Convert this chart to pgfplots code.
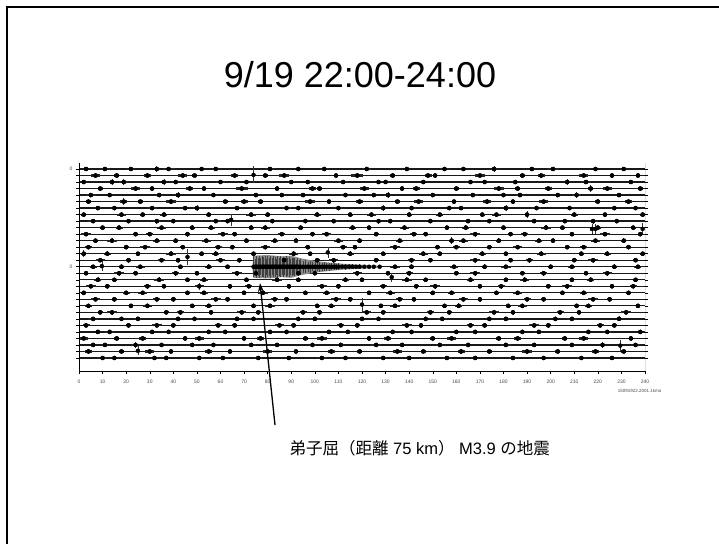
\documentclass[border=0pt]{standalone}
\usepackage{fontspec}
\setmainfont{Liberation Sans}
\newfontfamily\cjk{Noto Sans CJK JP}
\usepackage{pgfplots}
\pgfplotsset{compat=1.18}
\usepackage{pgfplotstable}
\usetikzlibrary{arrows.meta}

% baselines of the 30 traces (nan rows separate the traces)
\pgfplotstableread[row sep=\\]{
x y\\
0 0\\ 240 0\\ nan nan\\ 0 -1\\ 240 -1\\ nan nan\\ 0 -2\\ 240 -2\\ nan nan\\ 0 -3\\ 240 -3\\ nan nan\\
0 -4\\ 240 -4\\ nan nan\\ 0 -5\\ 240 -5\\ nan nan\\ 0 -6\\ 240 -6\\ nan nan\\ 0 -7\\ 240 -7\\ nan nan\\
0 -8\\ 240 -8\\ nan nan\\ 0 -9\\ 240 -9\\ nan nan\\ 0 -10\\ 240 -10\\ nan nan\\ 0 -11\\ 240 -11\\ nan nan\\
0 -12\\ 240 -12\\ nan nan\\ 0 -13\\ 240 -13\\ nan nan\\ 0 -14\\ 240 -14\\ nan nan\\ 0 -15\\ 240 -15\\ nan nan\\
0 -16\\ 240 -16\\ nan nan\\ 0 -17\\ 240 -17\\ nan nan\\ 0 -18\\ 240 -18\\ nan nan\\ 0 -19\\ 240 -19\\ nan nan\\
0 -20\\ 240 -20\\ nan nan\\ 0 -21\\ 240 -21\\ nan nan\\ 0 -22\\ 240 -22\\ nan nan\\ 0 -23\\ 240 -23\\ nan nan\\
0 -24\\ 240 -24\\ nan nan\\ 0 -25\\ 240 -25\\ nan nan\\ 0 -26\\ 240 -26\\ nan nan\\ 0 -27\\ 240 -27\\ nan nan\\
0 -28\\ 240 -28\\ nan nan\\ 0 -29\\ 240 -29\\
}\baselines

% noise bursts: x, trace y, half amplitude a, half length l
\pgfplotstableread[row sep=\\]{
x y a l\\
3 0 .3 1\\ 11 0 .25 2\\ 22 0 .35 1.5\\ 33 0 .5 1\\ 38 0 .3 2.5\\ 52 0 .25 1\\ 58 0 .3 1.5\\ 81 0 .3 2\\ 93 0 .35 1\\ 104 0 .25 1.5\\ 122 0 .3 2\\ 139 0 .35 1\\ 155 0 .25 2\\ 163 0 .3 1\\ 176 0 .4 1.5\\ 192 0 .3 1\\ 201 0 .25 2.5\\ 219 0 .35 1\\ 231 0 .3 1.5\\
7 -1 .3 2\\ 16 -1 .35 1\\ 29 -1 .4 1.5\\ 44 -1 .3 2\\ 49 -1 .25 1\\ 66 -1 .35 1.5\\ 79 -1 .3 1\\ 87 -1 .4 2\\ 109 -1 .3 1\\ 118 -1 .35 2.5\\ 133 -1 .25 1\\ 148 -1 .3 1.5\\ 151 -1 .4 1\\ 170 -1 .3 2\\ 188 -1 .35 1\\ 196 -1 .3 1.5\\ 214 -1 .25 2\\ 226 -1 .35 1\\ 237 -1 .3 1\\
2 -2 .35 1.5\\ 14 -2 .4 1\\ 19 -2 .45 2\\ 36 -2 .4 1\\ 41 -2 .3 1.5\\ 60 -2 .3 2\\ 71 -2 .35 1\\ 90 -2 .3 1.5\\ 97 -2 .25 1\\ 112 -2 .35 2\\ 127 -2 .3 1\\ 130 -2 .35 1.5\\ 146 -2 .3 1\\ 166 -2 .25 2\\ 172 -2 .3 1\\ 185 -2 .35 1.5\\ 207 -2 .4 1\\ 215 -2 .3 2\\ 234 -2 .35 1\\
9 -3 .3 1\\ 24 -3 .35 2\\ 31 -3 .3 1\\ 47 -3 .4 1.5\\ 53 -3 .3 1\\ 69 -3 .3 2.5\\ 84 -3 .35 1\\ 99 -3 .3 1.5\\ 102 -3 .35 1\\ 121 -3 .3 2\\ 137 -3 .35 1\\ 143 -3 .3 1.5\\ 160 -3 .3 1\\ 178 -3 .35 2\\ 186 -3 .4 1\\ 199 -3 .3 1.5\\ 217 -3 .5 1\\ 224 -3 .35 2\\ 238 -3 .3 1\\
5 -4 .3 2\\ 13 -4 .3 1\\ 34 -4 .35 1.5\\ 42 -4 .4 1\\ 57 -4 .3 2\\ 75 -4 .35 1\\ 86 -4 .3 1.5\\ 95 -4 .35 1\\ 113 -4 .3 2\\ 125 -4 .3 1\\ 131 -4 .4 1.5\\ 150 -4 .35 1\\ 167 -4 .3 2\\ 180 -4 .35 1\\ 187 -4 .3 1.5\\ 203 -4 .35 1\\ 211 -4 .4 2\\ 229 -4 .3 1\\
4 -5 .35 1\\ 19 -5 .55 1.5\\ 26 -5 .3 1\\ 39 -5 .35 2\\ 62 -5 .3 1\\ 70 -5 .4 1.5\\ 77 -5 .3 1\\ 98 -5 .35 2\\ 106 -5 .3 1\\ 119 -5 .35 1.5\\ 135 -5 .3 1\\ 144 -5 .4 2\\ 159 -5 .3 1\\ 173 -5 .35 1.5\\ 184 -5 .3 1\\ 197 -5 .35 2\\ 220 -5 .4 1\\ 233 -5 .3 1.5\\
8 -6 .3 1.5\\ 15 -6 .35 1\\ 31 -6 .3 2\\ 45 -6 .35 1\\ 50 -6 .4 1.5\\ 67 -6 .3 1\\ 88 -6 .3 2\\ 93 -6 .35 1\\ 110 -6 .3 1.5\\ 129 -6 .4 1\\ 141 -6 .3 2\\ 157 -6 .35 1\\ 162 -6 .3 1.5\\ 181 -6 .4 1\\ 194 -6 .3 2\\ 208 -6 .35 1\\ 227 -6 .3 1.5\\ 236 -6 .35 1\\
2 -7 .3 1\\ 18 -7 .35 2\\ 27 -7 .3 1\\ 36 -7 .35 1.5\\ 55 -7 .3 1\\ 73 -7 .4 2\\ 80 -7 .3 1\\ 101 -7 .35 1.5\\ 115 -7 .3 1\\ 124 -7 .35 2\\ 140 -7 .4 1\\ 153 -7 .3 1.5\\ 171 -7 .35 1\\ 177 -7 .3 2\\ 190 -7 .5 1\\ 210 -7 .35 1.5\\ 223 -7 .3 1\\ 239 -7 .35 1\\
6 -8 .35 2\\ 21 -8 .3 1\\ 33 -8 .4 1.5\\ 40 -8 .3 1\\ 58 -8 .35 2\\ 63 -8 .3 1\\ 82 -8 .35 1.5\\ 96 -8 .3 1\\ 108 -8 .35 2\\ 127 -8 .4 1\\ 132 -8 .3 1.5\\ 149 -8 .35 1\\ 165 -8 .3 2\\ 174 -8 .35 1\\ 193 -8 .3 1.5\\ 206 -8 .35 1\\ 218 -8 .4 2\\ 228 -8 .3 1\\
10 -9 .3 1\\ 17 -9 .35 1.5\\ 35 -9 .3 2\\ 48 -9 .35 1\\ 56 -9 .3 1.5\\ 73 -9 .35 1\\ 79 -9 .4 2\\ 94 -9 .3 1\\ 116 -9 .35 1.5\\ 123 -9 .3 1\\ 138 -9 .35 2\\ 156 -9 .3 1\\ 164 -9 .35 1.5\\ 180 -9 .3 1\\ 198 -9 .4 2\\ 205 -9 .3 1\\ 220 -9 .35 1.5\\ 235 -9 .3 1\\
3 -10 .35 2\\ 24 -10 .3 1\\ 30 -10 .35 1.5\\ 46 -10 .4 1\\ 61 -10 .3 2\\ 66 -10 .35 1\\ 86 -10 .3 1.5\\ 99 -10 .35 1\\ 105 -10 .3 2\\ 126 -10 .35 1\\ 142 -10 .3 1.5\\ 147 -10 .35 1\\ 168 -10 .4 2\\ 183 -10 .3 1\\ 189 -10 .35 1.5\\ 209 -10 .3 1\\ 223 -10 .35 2\\ 238 -10 .3 1\\
7 -11 .3 1\\ 14 -11 .35 2\\ 33 -11 .3 1.5\\ 41 -11 .35 1\\ 54 -11 .3 2\\ 71 -11 .4 1\\ 83 -11 .3 1.5\\ 92 -11 .35 1\\ 110 -11 .3 2\\ 119 -11 .35 1\\ 136 -11 .3 1.5\\ 158 -11 .5 1\\ 163 -11 .3 2\\ 178 -11 .35 1\\ 195 -11 .3 1.5\\ 201 -11 .35 1\\ 219 -11 .3 2\\ 231 -11 .35 1\\
4 -12 .3 1.5\\ 20 -12 .35 1\\ 28 -12 .3 2\\ 44 -12 .35 1\\ 59 -12 .3 1.5\\ 65 -12 .35 1\\ 79 -12 .3 2\\ 97 -12 .35 1\\ 112 -12 .3 1.5\\ 117 -12 .35 1\\ 134 -12 .4 2\\ 152 -12 .3 1\\ 160 -12 .35 1.5\\ 174 -12 .3 1\\ 186 -12 .35 2\\ 207 -12 .3 1\\ 214 -12 .35 1.5\\ 233 -12 .3 1\\
2 -13 .5 1\\ 12 -13 .35 1.5\\ 25 -13 .3 1\\ 39 -13 .35 2\\ 52 -13 .3 1\\ 58 -13 .35 1.5\\ 74 -13 .3 1\\ 91 -13 .35 2\\ 98 -13 .3 1\\ 115 -13 .35 1.5\\ 129 -13 .3 1\\ 146 -13 .35 2\\ 153 -13 .3 1\\ 171 -13 .35 1.5\\ 181 -13 .3 1\\ 196 -13 .35 2\\ 213 -13 .3 1\\ 224 -13 .35 1.5\\ 239 -13 .3 1\\
9 -14 .3 2\\ 21 -14 .35 1\\ 35 -14 .3 1.5\\ 42 -14 .35 1\\ 60 -14 .3 2\\ 68 -14 .35 1\\ 87 -14 .3 1.5\\ 101 -14 .3 1\\ 108 -14 .35 2\\ 126 -14 .3 1\\ 141 -14 .35 1.5\\ 149 -14 .3 1\\ 168 -14 .35 2\\ 183 -14 .3 1\\ 191 -14 .35 1.5\\ 210 -14 .3 1\\ 218 -14 .35 2\\ 236 -14 .3 1\\
6 -15 .3 1.5\\ 18 -15 .35 1\\ 26 -15 .3 2\\ 43 -15 .3 1\\ 55 -15 .35 1.5\\ 63 -15 .3 1\\ 134 -15 .3 2\\ 141 -15 .35 1\\ 159 -15 .3 1.5\\ 172 -15 .35 1\\ 181 -15 .3 2\\ 200 -15 .35 1\\ 209 -15 .3 1.5\\ 227 -15 .35 1\\ 237 -15 .3 1.5\\
3 -16 .3 1\\ 17 -16 .35 2\\ 24 -16 .3 1\\ 41 -16 .35 1.5\\ 50 -16 .3 1\\ 67 -16 .35 2\\ 75 -16 .3 1\\ 93 -16 .35 1.5\\ 100 -16 .3 1\\ 118 -16 .35 2\\ 131 -16 .3 1\\ 140 -16 .35 1.5\\ 160 -16 .3 1\\ 168 -16 .35 2\\ 188 -16 .3 1\\ 197 -16 .35 1.5\\ 215 -16 .3 1\\ 224 -16 .35 2\\
8 -17 .35 1.5\\ 15 -17 .3 1\\ 34 -17 .35 2\\ 46 -17 .3 1\\ 53 -17 .35 1.5\\ 71 -17 .3 1\\ 84 -17 .35 2\\ 93 -17 .3 1\\ 113 -17 .35 1.5\\ 120 -17 .3 1\\ 139 -17 .35 2\\ 147 -17 .3 1\\ 166 -17 .35 1.5\\ 181 -17 .3 1\\ 189 -17 .35 2\\ 209 -17 .3 1\\ 217 -17 .35 1.5\\ 236 -17 .3 1\\
5 -18 .3 2\\ 12 -18 .4 1\\ 29 -18 .35 1.5\\ 36 -18 .3 1\\ 51 -18 .5 2\\ 64 -18 .35 1\\ 72 -18 .3 1.5\\ 89 -18 .35 1\\ 103 -18 .3 2\\ 110 -18 .35 1\\ 129 -18 .3 1.5\\ 143 -18 .4 1\\ 151 -18 .35 2\\ 170 -18 .3 1\\ 179 -18 .35 1.5\\ 199 -18 .3 1\\ 207 -18 .35 2\\ 226 -18 .3 1\\ 235 -18 .3 1.5\\
2 -19 .3 1\\ 20 -19 .35 1.5\\ 27 -19 .3 2\\ 46 -19 .35 1\\ 53 -19 .3 1.5\\ 70 -19 .35 1\\ 78 -19 .3 2\\ 96 -19 .35 1\\ 105 -19 .3 1.5\\ 123 -19 .35 1\\ 132 -19 .3 2\\ 150 -19 .35 1\\ 158 -19 .3 1.5\\ 177 -19 .35 1\\ 186 -19 .3 2\\ 205 -19 .35 1\\ 214 -19 .3 1.5\\ 233 -19 .35 1\\
7 -20 .3 2\\ 15 -20 .35 1\\ 33 -20 .3 1.5\\ 40 -20 .35 1\\ 58 -20 .3 2\\ 63 -20 .4 1\\ 83 -20 .3 1.5\\ 88 -20 .35 1\\ 109 -20 .3 2\\ 115 -20 .35 1\\ 136 -20 .3 1.5\\ 142 -20 .35 1\\ 163 -20 .3 2\\ 170 -20 .35 1\\ 190 -20 .3 1.5\\ 197 -20 .35 1\\ 218 -20 .3 2\\ 225 -20 .35 1\\
4 -21 .35 1.5\\ 22 -21 .3 1\\ 29 -21 .35 2\\ 48 -21 .3 1\\ 55 -21 .35 1.5\\ 74 -21 .3 1\\ 81 -21 .35 2\\ 101 -21 .3 1\\ 107 -21 .35 1.5\\ 128 -21 .3 1\\ 134 -21 .35 2\\ 155 -21 .3 1\\ 161 -21 .4 1.5\\ 182 -21 .3 1\\ 188 -21 .35 2\\ 211 -21 .3 1\\ 216 -21 .35 1.5\\ 237 -21 .3 1\\
9 -22 .3 1\\ 14 -22 .35 2\\ 37 -22 .3 1\\ 43 -22 .35 1.5\\ 56 -22 .4 1\\ 69 -22 .3 2\\ 76 -22 .35 1\\ 95 -22 .3 1.5\\ 102 -22 .35 1\\ 122 -22 .3 2\\ 129 -22 .35 1\\ 149 -22 .3 1.5\\ 157 -22 .35 1\\ 176 -22 .3 2\\ 184 -22 .35 1\\ 204 -22 .3 1.5\\ 212 -22 .35 1\\ 232 -22 .3 2\\
6 -23 .35 2\\ 18 -23 .3 1\\ 25 -23 .35 1.5\\ 42 -23 .3 1\\ 49 -23 .35 2\\ 67 -23 .3 1\\ 74 -23 .35 1.5\\ 93 -23 .3 1\\ 100 -23 .35 2\\ 120 -23 .3 1\\ 127 -23 .35 1.5\\ 147 -23 .3 1\\ 154 -23 .35 2\\ 174 -23 .3 1\\ 181 -23 .35 1.5\\ 202 -23 .3 1\\ 209 -23 .35 2\\ 229 -23 .4 1\\
3 -24 .3 1.5\\ 21 -24 .35 1\\ 33 -24 .3 2\\ 40 -24 .35 1\\ 59 -24 .3 1.5\\ 66 -24 .35 1\\ 85 -24 .3 2\\ 91 -24 .35 1\\ 111 -24 .3 1.5\\ 118 -24 .35 1\\ 139 -24 .3 2\\ 145 -24 .35 1\\ 166 -24 .3 1.5\\ 172 -24 .35 1\\ 193 -24 .3 2\\ 199 -24 .35 1\\ 221 -24 .3 1.5\\ 227 -24 .35 1\\
8 -25 .35 1\\ 13 -25 .3 2\\ 31 -25 .35 1\\ 38 -25 .3 1.5\\ 55 -25 .35 1\\ 62 -25 .3 2\\ 81 -25 .35 1\\ 88 -25 .3 1.5\\ 106 -25 .35 1\\ 114 -25 .3 2\\ 133 -25 .35 1\\ 141 -25 .3 1.5\\ 160 -25 .35 1\\ 168 -25 .3 2\\ 188 -25 .35 1\\ 195 -25 .3 1.5\\ 216 -25 .35 1\\ 224 -25 .3 2\\ 238 -25 .3 1\\
2 -26 .3 2\\ 16 -26 .35 1\\ 27 -26 .3 1.5\\ 45 -26 .35 1\\ 51 -26 .3 2\\ 70 -26 .35 1\\ 77 -26 .3 1.5\\ 96 -26 .35 1\\ 103 -26 .3 2\\ 123 -26 .35 1\\ 131 -26 .3 1.5\\ 150 -26 .35 1\\ 158 -26 .3 2\\ 178 -26 .35 1\\ 186 -26 .3 1.5\\ 206 -26 .35 1\\ 214 -26 .4 2\\ 234 -26 .35 1\\
6 -27 .3 1\\ 11 -27 .35 1.5\\ 24 -27 .4 2\\ 35 -27 .3 1\\ 48 -27 .35 1.5\\ 57 -27 .3 1\\ 73 -27 .35 2\\ 84 -27 .3 1\\ 99 -27 .35 1.5\\ 111 -27 .3 1\\ 126 -27 .35 2\\ 137 -27 .3 1\\ 153 -27 .35 1.5\\ 165 -27 .3 1\\ 181 -27 .35 2\\ 193 -27 .3 1\\ 209 -27 .35 1.5\\ 222 -27 .4 1\\ 236 -27 .3 2\\
4 -28 .35 1.5\\ 18 -28 .3 1\\ 30 -28 .35 2\\ 39 -28 .3 1\\ 55 -28 .35 1.5\\ 64 -28 .3 1\\ 80 -28 .35 2\\ 92 -28 .3 1\\ 107 -28 .35 1.5\\ 119 -28 .3 1\\ 135 -28 .35 2\\ 146 -28 .3 1\\ 162 -28 .35 1.5\\ 174 -28 .3 1\\ 190 -28 .35 2\\ 203 -28 .3 1\\ 219 -28 .35 1.5\\ 231 -28 .3 1\\
10 -29 .3 2\\ 15 -29 .35 1\\ 32 -29 .3 1.5\\ 37 -29 .35 1\\ 51 -29 .3 2\\ 61 -29 .35 1\\ 76 -29 .3 1.5\\ 89 -29 .35 1\\ 103 -29 .3 2\\ 113 -29 .35 1\\ 129 -29 .3 1.5\\ 140 -29 .35 1\\ 156 -29 .3 2\\ 168 -29 .35 1\\ 184 -29 .3 1.5\\ 197 -29 .35 1\\ 213 -29 .3 2\\ 226 -29 .35 1\\
}\blobs

% thin tall spikes: x, y centre, half amplitude
\pgfplotstableread[row sep=\\]{
x y a\\
74 -0.9 1.3\\ 64.5 -7.8 0.9\\ 46 -13.5 1.2\\ 9.7 -14.9 0.8\\ 105.5 -12.8 0.8\\ 132.6 -16.6 0.7\\
217.5 -9.2 0.8\\ 219 -9.2 0.7\\ 239 -9.2 0.9\\ 120 -20.8 1.0\\ 229.5 -27.1 0.9\\ 25 -27.9 0.7\\
}\spikes

% earthquake coda on trace 16: x, y, half amplitude
\pgfplotstableread[row sep=\\]{
x y a\\
74 -15 1.6\\ 74.6 -15 1.2\\ 75.2 -15 1.7\\ 75.8 -15 1.4\\ 76.4 -15 1.7\\ 77 -15 1.3\\ 77.6 -15 1.6\\ 78.2 -15 1.5\\
78.8 -15 1.7\\ 79.4 -15 1.2\\ 80 -15 1.6\\ 80.6 -15 1.4\\ 81.2 -15 1.7\\ 81.8 -15 1.3\\ 82.4 -15 1.6\\ 83 -15 1.5\\
83.6 -15 1.2\\ 84.2 -15 1.6\\ 84.8 -15 1.4\\ 85.4 -15 1.6\\ 86 -15 1.3\\ 86.6 -15 1.5\\ 87.2 -15 1.2\\ 87.8 -15 1.6\\
88.4 -15 1.4\\ 89 -15 1.5\\ 89.6 -15 1.2\\ 90.2 -15 1.4\\ 90.8 -15 1.3\\ 91.4 -15 1.4\\ 92 -15 1.1\\ 92.6 -15 1.3\\
93.2 -15 1.1\\ 94 -15 1.2\\ 95 -15 0.9\\ 96 -15 1.0\\ 97 -15 0.8\\ 98 -15 0.9\\ 99 -15 0.7\\ 100 -15 0.8\\
101 -15 0.7\\ 102 -15 0.8\\ 103 -15 0.6\\ 104 -15 0.7\\ 105 -15 0.6\\ 106 -15 0.6\\ 107 -15 0.5\\ 108 -15 0.55\\
109 -15 0.45\\ 110 -15 0.5\\ 111.5 -15 0.4\\ 113 -15 0.45\\ 114.5 -15 0.35\\ 116 -15 0.4\\ 117.5 -15 0.3\\ 119 -15 0.35\\
121 -15 0.25\\ 123 -15 0.3\\ 125 -15 0.25\\ 127.5 -15 0.2\\
}\quake

\begin{document}
\begin{tikzpicture}
\path[use as bounding box] (0,0) rectangle (719pt,-544pt);
\fill[white] (0,0) rectangle (719pt,-544pt);
\draw[line width=2pt] (7pt,-544pt) -- (7pt,-7pt) -- (719pt,-7pt);

\node[font=\fontsize{36}{40}\selectfont] at (360pt,-75pt) {9/19 22:00-24:00};

\begin{axis}[
  at={(79pt,-371pt)}, anchor=south west,
  scale only axis, width=566pt, height=208pt,
  xmin=0, xmax=240, ymin=-31, ymax=0.92,
  axis line style={draw=none},
  tick align=outside,
  major tick length=3pt,
  every tick/.style={black, line width=0.5pt},
  xtick={0,10,...,240},
  xtick pos=bottom,
  ytick={-29,-28,...,0},
  yticklabels={},
  ytick pos=both,
  extra y ticks={0,-15},
  extra y tick labels={0,0},
  /pgf/number format/assume math mode=true,
  tick label style={font=\fontsize{5}{6}\selectfont, text=black!70},
  xticklabel style={yshift=-2pt},
  unbounded coords=jump,
  clip=true,
]
\addplot[black!90, line width=1.3pt, mark=none, forget plot]
  table[x=x, y=y] {\baselines};
\addplot[only marks, mark=none, forget plot,
  error bars/.cd, x dir=both, x explicit, error mark=none,
  error bar style={draw=black!85, line width=2.2pt}]
  table[x=x, y=y, x error=l] {\blobs};
\addplot[only marks, mark=none, forget plot,
  error bars/.cd, y dir=both, y explicit, error mark=none,
  error bar style={draw=black!80, line width=0.7pt}]
  table[x=x, y=y, y error=a] {\blobs};
\addplot[only marks, mark=none, forget plot,
  error bars/.cd, y dir=both, y explicit, error mark=none,
  error bar style={draw=black!80, line width=0.5pt}]
  table[x=x, y=y, y error=a] {\spikes};
\addplot[fill=black!45, draw=none, forget plot] coordinates {
  (73.5,-15) (74,-13.3) (80,-13.2) (86,-13.4) (90,-13.3) (94,-13.7) (100,-14.1) (106,-14.35)
  (112,-14.55) (120,-14.7) (128,-14.85) (128,-15.15) (120,-15.3) (112,-15.45) (106,-15.65)
  (100,-15.9) (94,-16.3) (90,-16.7) (86,-16.6) (80,-16.8) (74,-16.7)
} -- cycle;
\addplot[only marks, mark=none, forget plot,
  error bars/.cd, y dir=both, y explicit, error mark=none,
  error bar style={draw=black!75, line width=0.4pt}]
  table[x=x, y=y, y error=a] {\quake};
\draw[line width=1pt, black] (rel axis cs:0,1) -- (rel axis cs:0,0) -- (rel axis cs:1,0) -- (rel axis cs:1,1);
\end{axis}

\node[font=\fontsize{4.5}{5}\selectfont, text=black!70, anchor=east] at (665pt,-391pt) {15091922.2001.1kmo};
\draw[-{Stealth[length=9pt,width=6pt]}, line width=1.3pt] (275pt,-425pt) -- (260pt,-283pt);
\node[font=\fontsize{16.5}{18}\selectfont, anchor=west] at (286pt,-448pt) {{\cjk 弟子屈（距離} 75 km{\cjk ）} M3.9 {\cjk の地震}};
\end{tikzpicture}
\end{document}
